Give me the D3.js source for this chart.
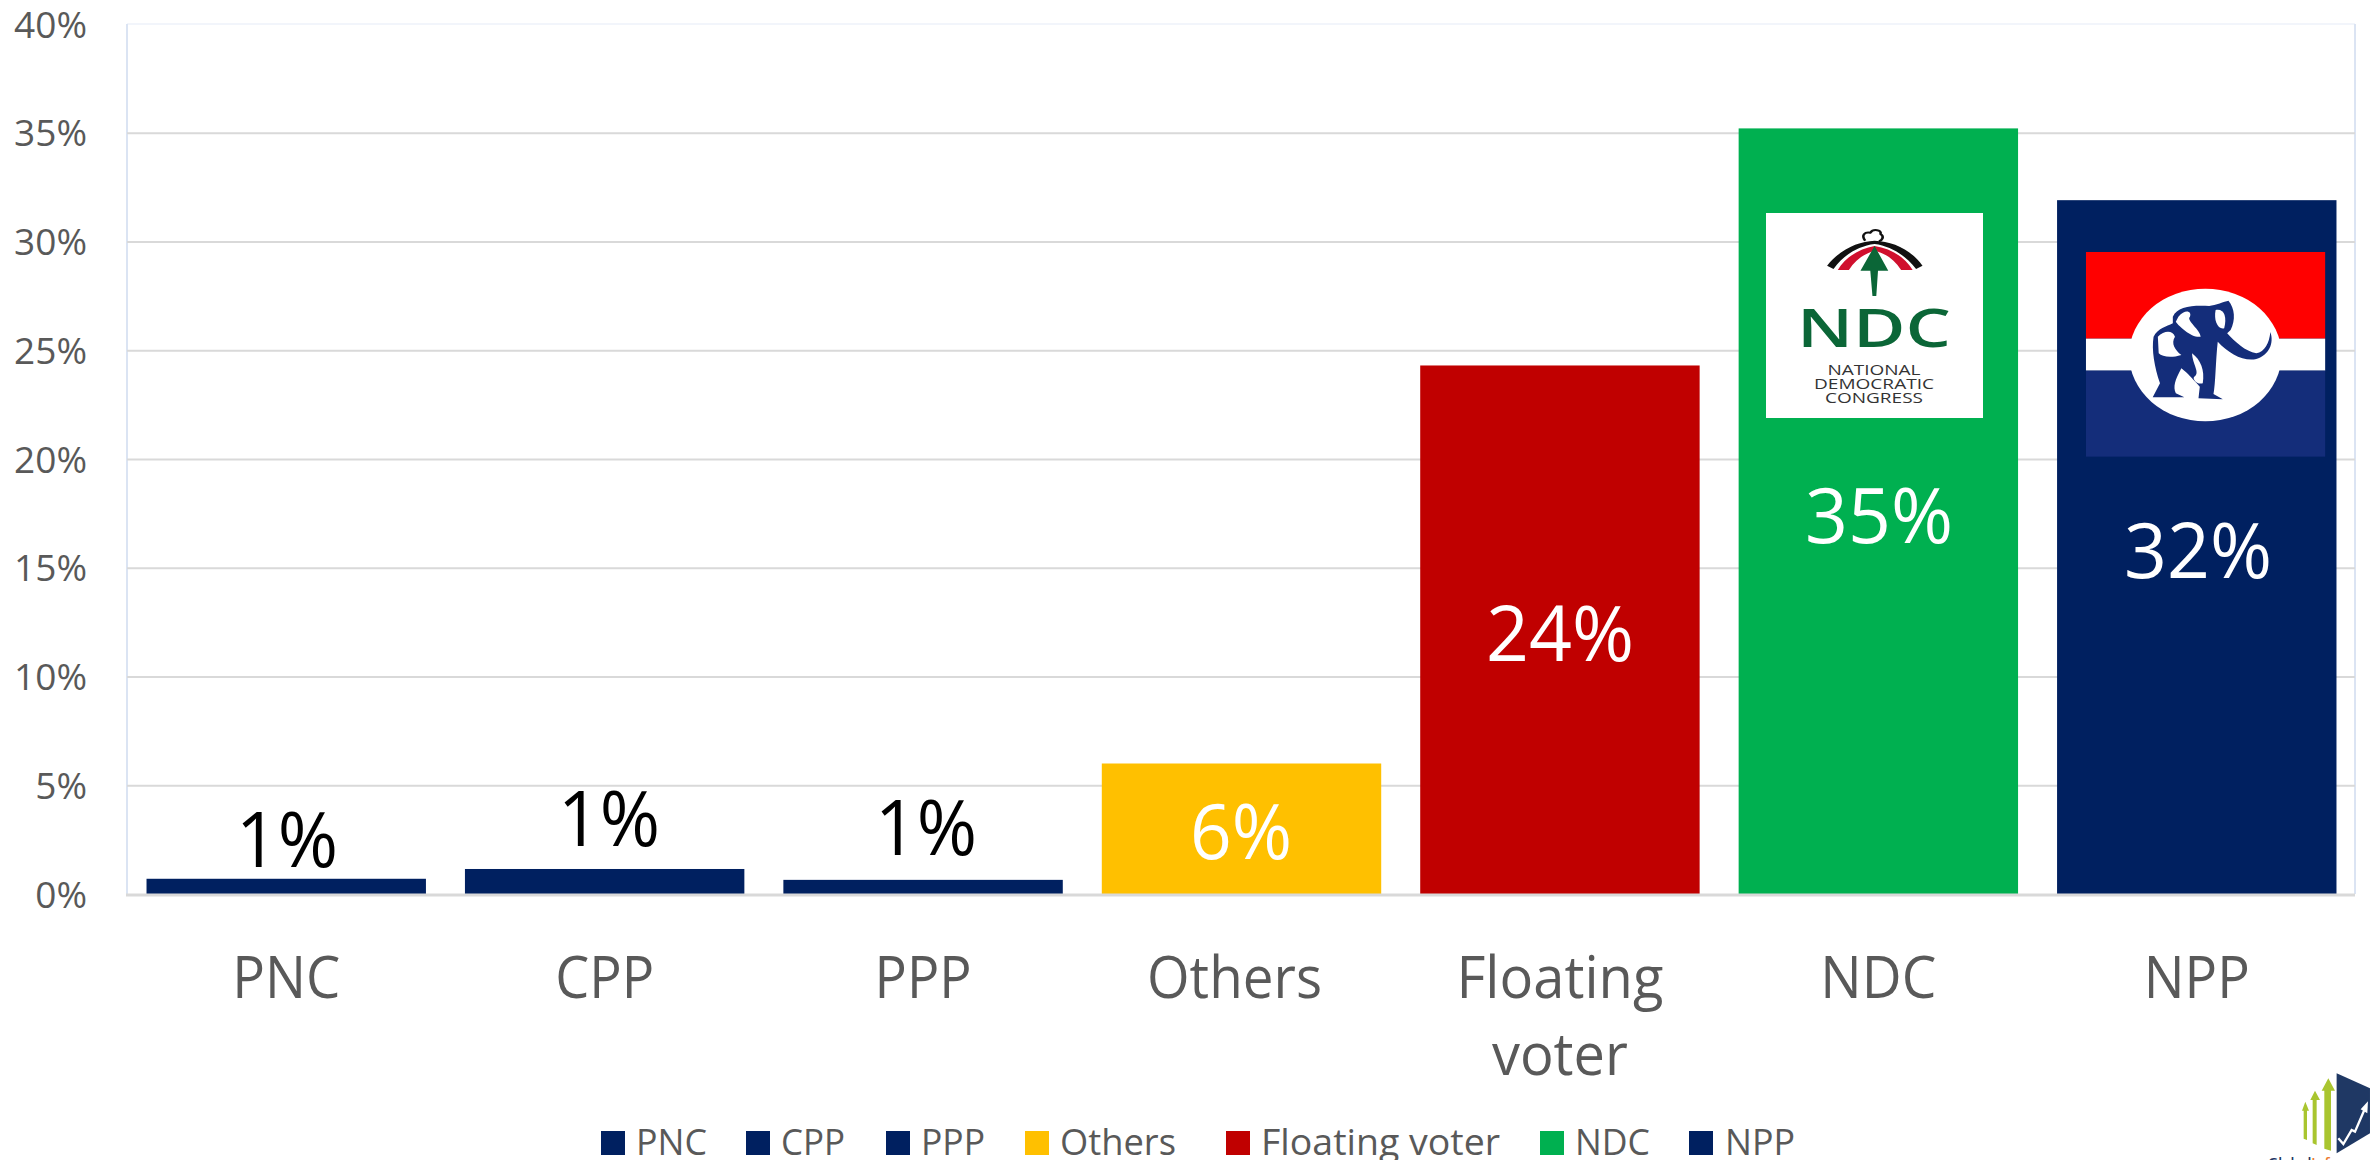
<!DOCTYPE html>
<html><head><meta charset="utf-8">
<script src="https://cdn.jsdelivr.net/npm/d3@7/dist/d3.min.js"></script>
<style>html,body{margin:0;padding:0;background:#fff;overflow:hidden}svg{display:block}text{font-family:"Open Sans",sans-serif}</style>
</head><body><svg id="c" width="2371" height="1160"></svg>
<script>
const categories = ["PNC","CPP","PPP","Others","Floating voter","NDC","NPP"];
const values = [0.7,1.15,0.65,6.0,24.3,35.2,31.9];
const valueLabels = ["1%","1%","1%","6%","24%","35%","32%"];
const barColors = ["#002060","#002060","#002060","#FFC000","#C00000","#00B050","#002060"];
const tickValues = [0,5,10,15,20,25,30,35,40];

const svg = d3.select("#c");
const x = d3.scaleBand().domain(categories).range([127,2356]).paddingInner(0.1225).paddingOuter(0.0613);
const y = d3.scaleLinear().domain([0,40]).range([894,24]);

// plot frame
svg.append("line").attr("x1",127).attr("x2",2355).attr("y1",24).attr("y2",24).attr("stroke","#f2f5fb").attr("stroke-width",2);
svg.append("line").attr("x1",127).attr("x2",127).attr("y1",24).attr("y2",894).attr("stroke","#dbe4f3").attr("stroke-width",2);
svg.append("line").attr("x1",2355).attr("x2",2355).attr("y1",24).attr("y2",894).attr("stroke","#dbe4f3").attr("stroke-width",2);

// y axis and gridlines
const ya = svg.append("g").attr("transform","translate(127,0)")
  .call(d3.axisLeft(y).tickValues(tickValues).tickSize(0).tickPadding(40).tickFormat(d=>d+"%"));
ya.select(".domain").remove();
ya.selectAll("text").attr("font-size",37).attr("fill","#595959").attr("dy",null)
  .attr("y",13).attr("font-family",'"Open Sans",sans-serif');
ya.selectAll(".tick").filter(d=>d>0&&d<40).append("line")
  .attr("x1",0).attr("x2",2228).attr("stroke","#d9d9d9").attr("stroke-width",2);

// bars
svg.append("g").selectAll("rect").data(categories).join("rect")
  .attr("x",d=>x(d)).attr("width",x.bandwidth())
  .attr("y",(d,i)=>y(values[i])).attr("height",(d,i)=>y(0)-y(values[i]))
  .attr("fill",(d,i)=>barColors[i]);

// baseline
svg.append("line").attr("x1",126).attr("x2",2355).attr("y1",895).attr("y2",895).attr("stroke","#d9d9d9").attr("stroke-width",3);

// x axis labels (wrapped)
const xa = svg.append("g").attr("transform","translate(0,894)")
  .call(d3.axisBottom(x).tickSize(0).tickFormat(""));
xa.select(".domain").remove();
const catWidths = {"PNC":108,"CPP":99,"PPP":97,"Others":175,"Floating":207,"voter":136,"NDC":116,"NPP":106};
const catShift = {"PNC":0,"CPP":0,"PPP":0,"Others":-7,"Floating":0,"voter":0,"NDC":0,"NPP":0};
xa.selectAll(".tick").each(function(d){
  const g = d3.select(this); g.select("text").remove();
  d.split(" ").forEach((w,i)=>{
    g.append("text").attr("text-anchor","middle").attr("x",catShift[w]).attr("y",104+i*77)
      .attr("font-size",58).attr("fill","#595959")
      .attr("textLength",catWidths[w]).attr("lengthAdjust","spacingAndGlyphs").text(w);
  });
});

// data labels: hand-placed in the original chart
const labelCenters = [287,609,926,1241,1560,1879,2198];
const labelBaselines = [867,846,855,859,661,543,578];
const labelWidths = [102,102,102,102,148,148,148];
const labelFill = ["#000","#000","#000","#fff","#fff","#fff","#fff"];
svg.append("g").selectAll("text").data(valueLabels).join("text")
  .attr("x",(d,i)=>labelCenters[i]).attr("y",(d,i)=>labelBaselines[i])
  .attr("text-anchor","middle").attr("font-size",76).attr("fill",(d,i)=>labelFill[i])
  .attr("textLength",(d,i)=>labelWidths[i]).attr("lengthAdjust","spacingAndGlyphs").text(d=>d);

// legend
const legSwatchX = [601,746,886,1025,1226,1540,1689];
const legTextX = [636,781,921,1060,1261,1575,1725];
const legTextW = [71,64,64,116,239,75,70];
const leg = svg.append("g").selectAll("g").data(categories).join("g");
leg.append("rect").attr("x",(d,i)=>legSwatchX[i]).attr("y",1131).attr("width",24).attr("height",24)
  .attr("fill",(d,i)=>barColors[i]);
leg.append("text").attr("x",(d,i)=>legTextX[i]).attr("y",1155).attr("font-size",37).attr("fill","#595959")
  .attr("textLength",(d,i)=>legTextW[i]).attr("lengthAdjust","spacingAndGlyphs").text(d=>d);

// NDC logo
svg.append("rect").attr("x",1766).attr("y",213).attr("width",217).attr("height",205).attr("fill","#fff");
const ndc = svg.append("g").attr("transform","translate(1700,120) scale(0.4279,0.3333)");
ndc.append("path").attr("fill","none").attr("stroke","#111").attr("stroke-width",6)
  .attr("d","M386,362 C376,345 385,335 398,338 C405,325 425,330 422,342 C432,350 425,362 418,364");
ndc.append("path").attr("fill","#111").attr("d","M297,437 C330,385 370,365 408,362 C450,365 490,385 520,437 L505,447 C480,405 445,378 408,372 C370,378 335,405 312,447 Z");
ndc.append("path").attr("fill","#d0102e").attr("d","M322,450 C340,410 375,385 408,378 C445,385 478,410 497,450 L470,450 C455,420 435,400 408,392 C385,400 362,420 348,450 Z");
ndc.append("path").attr("fill","#0b6637").attr("d","M408,378 L440,452 L416,452 L412,528 L403,528 L398,452 L375,452 Z");
const ndcT = [["NDC",347,53,154,"600","#0b6637"],["NATIONAL",375,14,93,"400","#333"],["DEMOCRATIC",389,14,120,"400","#333"],["CONGRESS",403,14,98,"400","#333"]];
svg.append("g").selectAll("text").data(ndcT).join("text").attr("x",1874).attr("y",d=>d[1]).attr("text-anchor","middle")
  .attr("font-size",d=>d[2]).attr("textLength",d=>d[3]).attr("lengthAdjust","spacingAndGlyphs")
  .attr("font-weight",d=>d[4]).attr("fill",d=>d[5]).text(d=>d[0]);

// NPP flag
const npp = svg.append("g").attr("transform","translate(1700,120) scale(0.4279,0.3333)");
npp.append("rect").attr("x",902).attr("y",396).attr("width",559).attr("height",260).attr("fill","#ff0000");
npp.append("rect").attr("x",902).attr("y",656).attr("width",559).attr("height",96).attr("fill","#fff");
npp.append("rect").attr("x",902).attr("y",752).attr("width",559).attr("height",258).attr("fill","#142d7a");
npp.append("ellipse").attr("cx",1181).attr("cy",705).attr("rx",178).attr("ry",199).attr("fill","#fff");
npp.append("path").attr("fill","#142d7a").attr("d","M1105,590 C1115,560 1150,555 1190,558 C1205,555 1225,545 1235,542 C1250,565 1252,600 1240,630 L1232,640 C1250,665 1275,695 1300,700 C1320,695 1330,670 1333,636 C1342,670 1330,705 1300,717 C1270,725 1235,700 1210,665 C1205,720 1205,790 1200,822 L1222,838 L1165,835 L1168,800 C1150,775 1140,760 1125,745 C1110,780 1105,800 1112,820 L1132,832 L1058,832 L1075,790 C1062,740 1055,690 1060,650 C1070,625 1090,620 1105,610 Z");
["M1118,590 C1135,565 1150,575 1145,590 C1135,600 1170,630 1170,650 C1150,655 1120,620 1112,605 Z",
 "M1205,570 C1225,565 1232,590 1225,625 C1210,630 1200,600 1205,570 Z",
 "M1070,650 C1085,630 1105,630 1110,650 C1100,670 1110,690 1125,705 C1100,715 1080,710 1072,700 Z",
 "M1150,700 C1170,720 1180,750 1175,790 C1160,795 1150,775 1155,770 C1170,760 1150,730 1150,700 Z",
 "M1240,640 C1260,675 1285,695 1305,690 C1285,680 1265,665 1250,640 Z"
].forEach(p=>npp.append("path").attr("fill","#fff").attr("d",p));

// corner logo
const cl = svg.append("g").attr("transform","translate(2230,1050) scale(0.3333)");
const green = "#a9c52f";
["M283,296 L283,122 L275,122 L295,85 L315,122 L303,122 L303,302 Z",
 "M248,280 L248,150 L241,150 L255,122 L270,150 L260,150 L260,285 Z",
 "M221,266 L221,182 L216,182 L226,155 L237,182 L231,182 L231,270 Z"
].forEach(p=>cl.append("path").attr("fill",green).attr("d",p));
cl.append("path").attr("fill","#1f3864").attr("d","M320,70 L420,115 L420,250 L320,310 Z");
cl.append("path").attr("fill","none").attr("stroke","#fff").attr("stroke-width",7).attr("d","M325,265 L340,282 L365,240 L375,245 L403,180");
cl.append("path").attr("fill","#fff").attr("d","M392,178 L414,154 L412,190 Z");
const brand = svg.append("text").attr("x",2268).attr("y",1168).attr("font-size",14).attr("font-weight",600).attr("fill","#1f3864");
brand.append("tspan").text("Global");
brand.append("tspan").attr("fill","#ed7d31").text("Info");
</script></body></html>
